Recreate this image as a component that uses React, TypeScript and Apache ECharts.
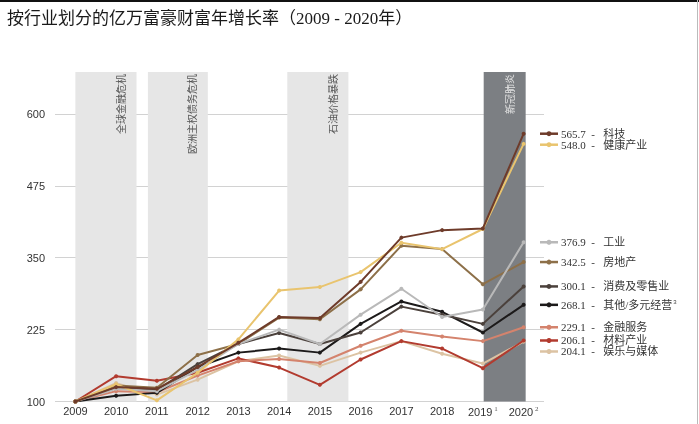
import React, { useEffect, useRef } from 'react';
import * as echarts from 'echarts';

const years = [2009, 2010, 2011, 2012, 2013, 2014, 2015, 2016, 2017, 2018, 2019, 2020];

const seriesNames = ['科技', '健康产业', '工业', '房地产', '消费及零售业', '其他/多元经营', '金融服务', '材料产业', '娱乐与媒体'];
const tech = [100, 125, 122, 160, 202, 247, 245, 308, 385, 398, 401, 565.7];
const health = [100, 130, 102, 150, 208, 293, 299, 325, 376, 365, 400, 548.0];
const industry = [100, 122, 118, 155, 200, 225, 200, 251, 296, 247, 260, 376.9];
const realEstate = [100, 128, 124, 181, 200, 246, 243, 295, 371, 365, 304, 342.5];
const consumer = [100, 124, 120, 165, 200, 219, 200, 220, 265, 251, 235, 300.1];
const other = [100, 110, 115, 160, 185, 192, 185, 235, 274, 256, 220, 268.1];
const finance = [100, 118, 116, 145, 170, 174, 167, 197, 223, 213, 205, 229.1];
const materials = [100, 144, 136, 150, 175, 159, 129, 173, 205, 192, 158, 206.1];
const media = [100, 132, 112, 138, 170, 180, 162, 185, 205, 183, 166, 204.1];
const seriesValues = [tech, health, industry, realEstate, consumer, other, finance, materials, media];
const endLabels = ['565.7', '548.0', '376.9', '342.5', '300.1', '268.1', '229.1', '206.1', '204.1'];

const crisisNames = ['全球金融危机', '欧洲主权债务危机', '石油价格暴跌', '新冠肺炎'];
const crisisStart = [2009, 2010.78, 2014.2, 2019.02];
const crisisEnd = [2010.5, 2012.25, 2015.7, 2020.05];

const yTicks = { min: 100, interval: 125 };

const COLORS = ['#6e3b2a', '#e9c46e', '#b9b9b9', '#8d7049', '#4b413c', '#1c1a1a', '#d4836d', '#b23b2f', '#dcc3a3'];
const BAND_COLORS = ['#e6e6e6', '#e6e6e6', '#e6e6e6', '#7c7f83'];
const BAND_TEXT = ['#555', '#555', '#555', '#e2e2e2'];
const SERIF = "'Liberation Serif', 'Noto Sans CJK SC', serif";
const SANS = "'Liberation Sans', Arial, sans-serif";

export default function App() {
  const ref = useRef<HTMLDivElement>(null);
  useEffect(() => {
    const chart = echarts.init(ref.current!, null, { renderer: 'svg' });
    const lines = seriesNames.map((name, i) => ({
      name,
      type: 'line',
      data: seriesValues[i].map((v, j) => [years[j], v]),
      symbol: 'circle',
      symbolSize: 4,
      showSymbol: true,
      lineStyle: { width: 2, color: COLORS[i] },
      itemStyle: { color: COLORS[i] },
      z: 2 + (seriesNames.length - i) * 0.01,
    }));
    const bands = {
      type: 'line',
      data: [],
      z: -1,
      silent: true,
      markArea: {
        silent: true,
        label: { show: false },
        data: crisisNames.map((n, i) => [
          { name: n, xAxis: crisisStart[i], itemStyle: { color: BAND_COLORS[i] } },
          { xAxis: crisisEnd[i] },
        ]),
      },
    };
    chart.setOption({
      animation: false,
      title: {
        text: '按行业划分的亿万富豪财富年增长率（2009 - 2020年）',
        left: 2,
        top: 5,
        textStyle: { fontSize: 17, fontWeight: 'normal', color: '#1a1a1a', fontFamily: SERIF },
      },
      grid: { left: 55, right: 155, top: 72, bottom: 22.5, outerBoundsMode: 'none' },
      xAxis: {
        type: 'value',
        min: 2008.5,
        max: 2020.5,
        interval: 0.5,
        axisLine: { show: false },
        axisTick: { show: false },
        splitLine: { show: false },
        axisLabel: {
          margin: 4,
          color: '#333',
          fontSize: 11,
          fontFamily: SANS,
          showMinLabel: false,
          showMaxLabel: false,
          formatter: (v: number) => {
            const r = Math.round(v);
            if (Math.abs(v - r) > 1e-6 || r < years[0] || r > years[years.length - 1]) return '';
            if (r === 2019) return '2019{s|1}';
            if (r === 2020) return '2020{s|2}';
            return String(r);
          },
          rich: { s: { fontSize: 7, verticalAlign: 'top', padding: [0, 0, 6, 2], color: '#555', fontFamily: SERIF } },
        },
      },
      yAxis: {
        type: 'value',
        min: yTicks.min,
        max: 673,
        interval: yTicks.interval,
        axisLine: { show: false },
        axisTick: { show: false },
        axisLabel: { margin: 10, color: '#333', fontSize: 11, fontFamily: SANS, showMaxLabel: false },
        splitLine: { show: true, showMaxLine: false, lineStyle: { color: '#d2d2d2', width: 1 } },
      },
      series: [bands, ...lines],
    });

    const px = (v: number) => chart.convertToPixel({ xAxisIndex: 0 }, v) as number;
    const py = (v: number) => chart.convertToPixel({ yAxisIndex: 0 }, v) as number;
    const top = py(673);
    const graphics: any[] = [];
    crisisNames.forEach((n, i) => {
      graphics.push({
        type: 'text',
        x: px(crisisEnd[i]) - 15,
        y: top + 2,
        rotation: Math.PI / 2,
        style: { text: n, fill: BAND_TEXT[i], fontSize: 10, fontFamily: SERIF, align: 'right', verticalAlign: 'middle' },
        z: 10,
      });
    });
    let prev = -Infinity;
    seriesNames.forEach((n, i) => {
      const v = seriesValues[i][seriesValues[i].length - 1];
      let y = py(v);
      if (y < prev + 11) y = prev + 11;
      prev = y;
      const sup = n === '其他/多元经营';
      graphics.push({
        type: 'group',
        x: 540,
        y,
        children: [
          { type: 'line', shape: { x1: 0, y1: 0, x2: 18, y2: 0 }, style: { stroke: COLORS[i], lineWidth: 2.5 } },
          { type: 'circle', shape: { cx: 9, cy: 0, r: 2.5 }, style: { fill: COLORS[i] } },
          {
            type: 'text',
            x: 21,
            y: 0,
            style: {
              text: `${endLabels[i]}  -   ${n}` + (sup ? '{s|3}' : ''),
              rich: { s: { fontSize: 6, verticalAlign: 'top', padding: [0, 0, 6, 1], fill: '#444' } },
              fill: '#333',
              fontSize: 11,
              fontFamily: SERIF,
              verticalAlign: 'middle',
            },
          },
        ],
      });
    });
    graphics.push({ type: 'rect', shape: { x: 0, y: 0, width: 699, height: 2 }, style: { fill: '#111' } });
    graphics.push({ type: 'line', shape: { x1: 697.5, y1: 0, x2: 697.5, y2: 424 }, style: { stroke: '#bbb', lineWidth: 1 } });
    chart.setOption({ graphic: graphics });
    return () => chart.dispose();
  }, []);
  return <div ref={ref} style={{ position: 'fixed', left: 0, top: 0, width: 699, height: 424 }} />;
}
